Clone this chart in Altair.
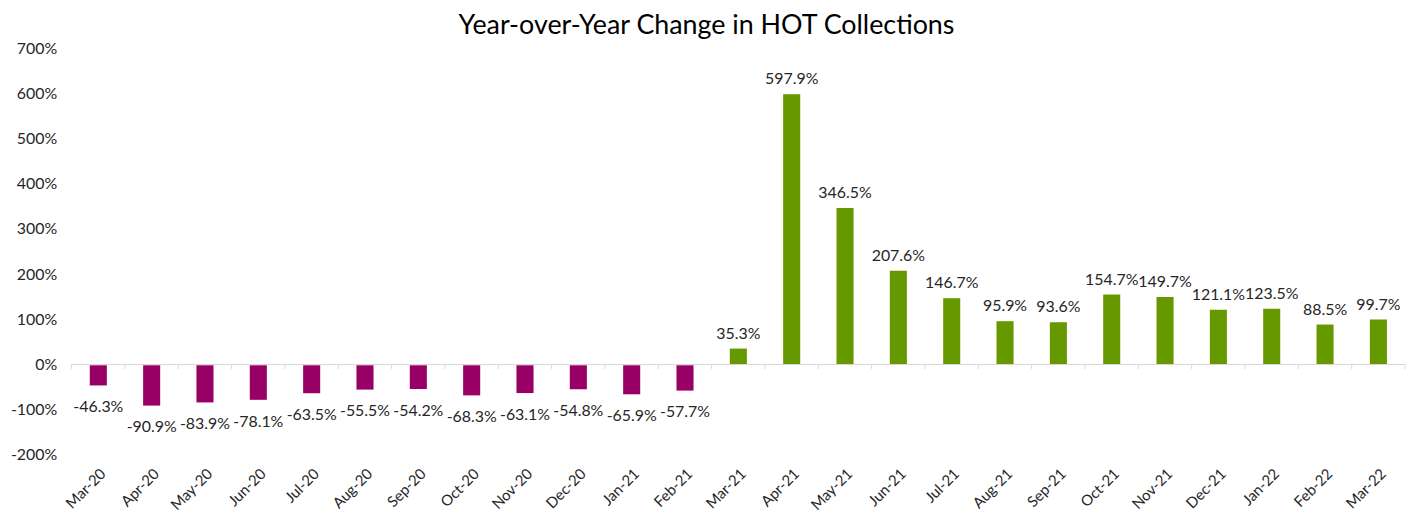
import altair as alt
import pandas as pd

months = ["Mar-20", "Apr-20", "May-20", "Jun-20", "Jul-20", "Aug-20", "Sep-20", "Oct-20",
          "Nov-20", "Dec-20", "Jan-21", "Feb-21", "Mar-21", "Apr-21", "May-21", "Jun-21",
          "Jul-21", "Aug-21", "Sep-21", "Oct-21", "Nov-21", "Dec-21", "Jan-22", "Feb-22", "Mar-22"]
values = [-46.3, -90.9, -83.9, -78.1, -63.5, -55.5, -54.2, -68.3, -63.1, -54.8, -65.9, -57.7,
          35.3, 597.9, 346.5, 207.6, 146.7, 95.9, 93.6, 154.7, 149.7, 121.1, 123.5, 88.5, 99.7]
y_ticks = [-200, -100, 0, 100, 200, 300, 400, 500, 600, 700]

df = pd.DataFrame({"month": months, "value": values})
df["label"] = [f"{v:.1f}%" for v in values]
df["sign"] = ["neg" if v < 0 else "pos" for v in values]

FONT = "Lato"
TXT = "#262626"

xscale = alt.Scale(paddingInner=0.68, paddingOuter=0.34)
yscale = alt.Scale(domain=[-200, 700], nice=False, zero=False)

x_enc = alt.X("month:N", sort=months, scale=xscale, title=None,
              axis=alt.Axis(labelAngle=-45, domain=False, ticks=False, labelPadding=11,
                            labelFont=FONT, labelFontSize=15, labelColor=TXT))
y_enc = alt.Y("value:Q", scale=yscale, title=None,
              axis=alt.Axis(values=y_ticks, labelExpr="datum.value + '%'", domain=False,
                            ticks=False, grid=False, labelPadding=15,
                            labelFont=FONT, labelFontSize=16, labelColor=TXT))

base = alt.Chart(df)

bars = base.mark_bar().encode(
    x=x_enc,
    y=y_enc,
    color=alt.Color("sign:N", scale=alt.Scale(domain=["neg", "pos"], range=["#990066", "#669900"]),
                    legend=None),
)

pos_text = base.transform_filter("datum.value >= 0").mark_text(
    baseline="bottom", dy=-7, font=FONT, fontSize=16, color=TXT
).encode(x=alt.X("month:N", sort=months), y="value:Q", text="label:N")

neg_text = base.transform_filter("datum.value < 0").mark_text(
    baseline="top", dy=14, font=FONT, fontSize=16, color=TXT
).encode(x=alt.X("month:N", sort=months), y="value:Q", text="label:N")

zero = base.mark_rule(color="#d9d9d9", strokeWidth=1).encode(y=alt.datum(0))

tick_scale = alt.Scale(paddingInner=0, paddingOuter=0)
ticks = base.mark_rule(color="#d9d9d9", strokeWidth=1).encode(
    x=alt.X("month:N", sort=months, scale=tick_scale, bandPosition=0, axis=None),
    y=alt.datum(0), y2=alt.datum(-10),
)
end_tick = base.transform_filter(alt.datum.month == months[-1]).mark_rule(
    color="#d9d9d9", strokeWidth=1).encode(
    x=alt.X("month:N", sort=months, scale=tick_scale, bandPosition=1, axis=None),
    y=alt.datum(0), y2=alt.datum(-10),
)

main = alt.layer(bars, pos_text, neg_text, zero)
tick_layer = alt.layer(ticks, end_tick)

chart = alt.layer(main, tick_layer).resolve_scale(x="independent").properties(
    width=1341, height=409,
    autosize=alt.AutoSizeParams(type="none"),
    padding={"left": 64, "top": 39, "right": 10, "bottom": 60},
    title=alt.Title("Year-over-Year Change in HOT Collections", font=FONT, fontSize=27,
                    fontWeight="normal", color="#000000", anchor="middle", offset=0, dx=-32),
).configure_view(stroke=None)

chart.save("out.html", embed_options={"renderer": "svg", "actions": False})
